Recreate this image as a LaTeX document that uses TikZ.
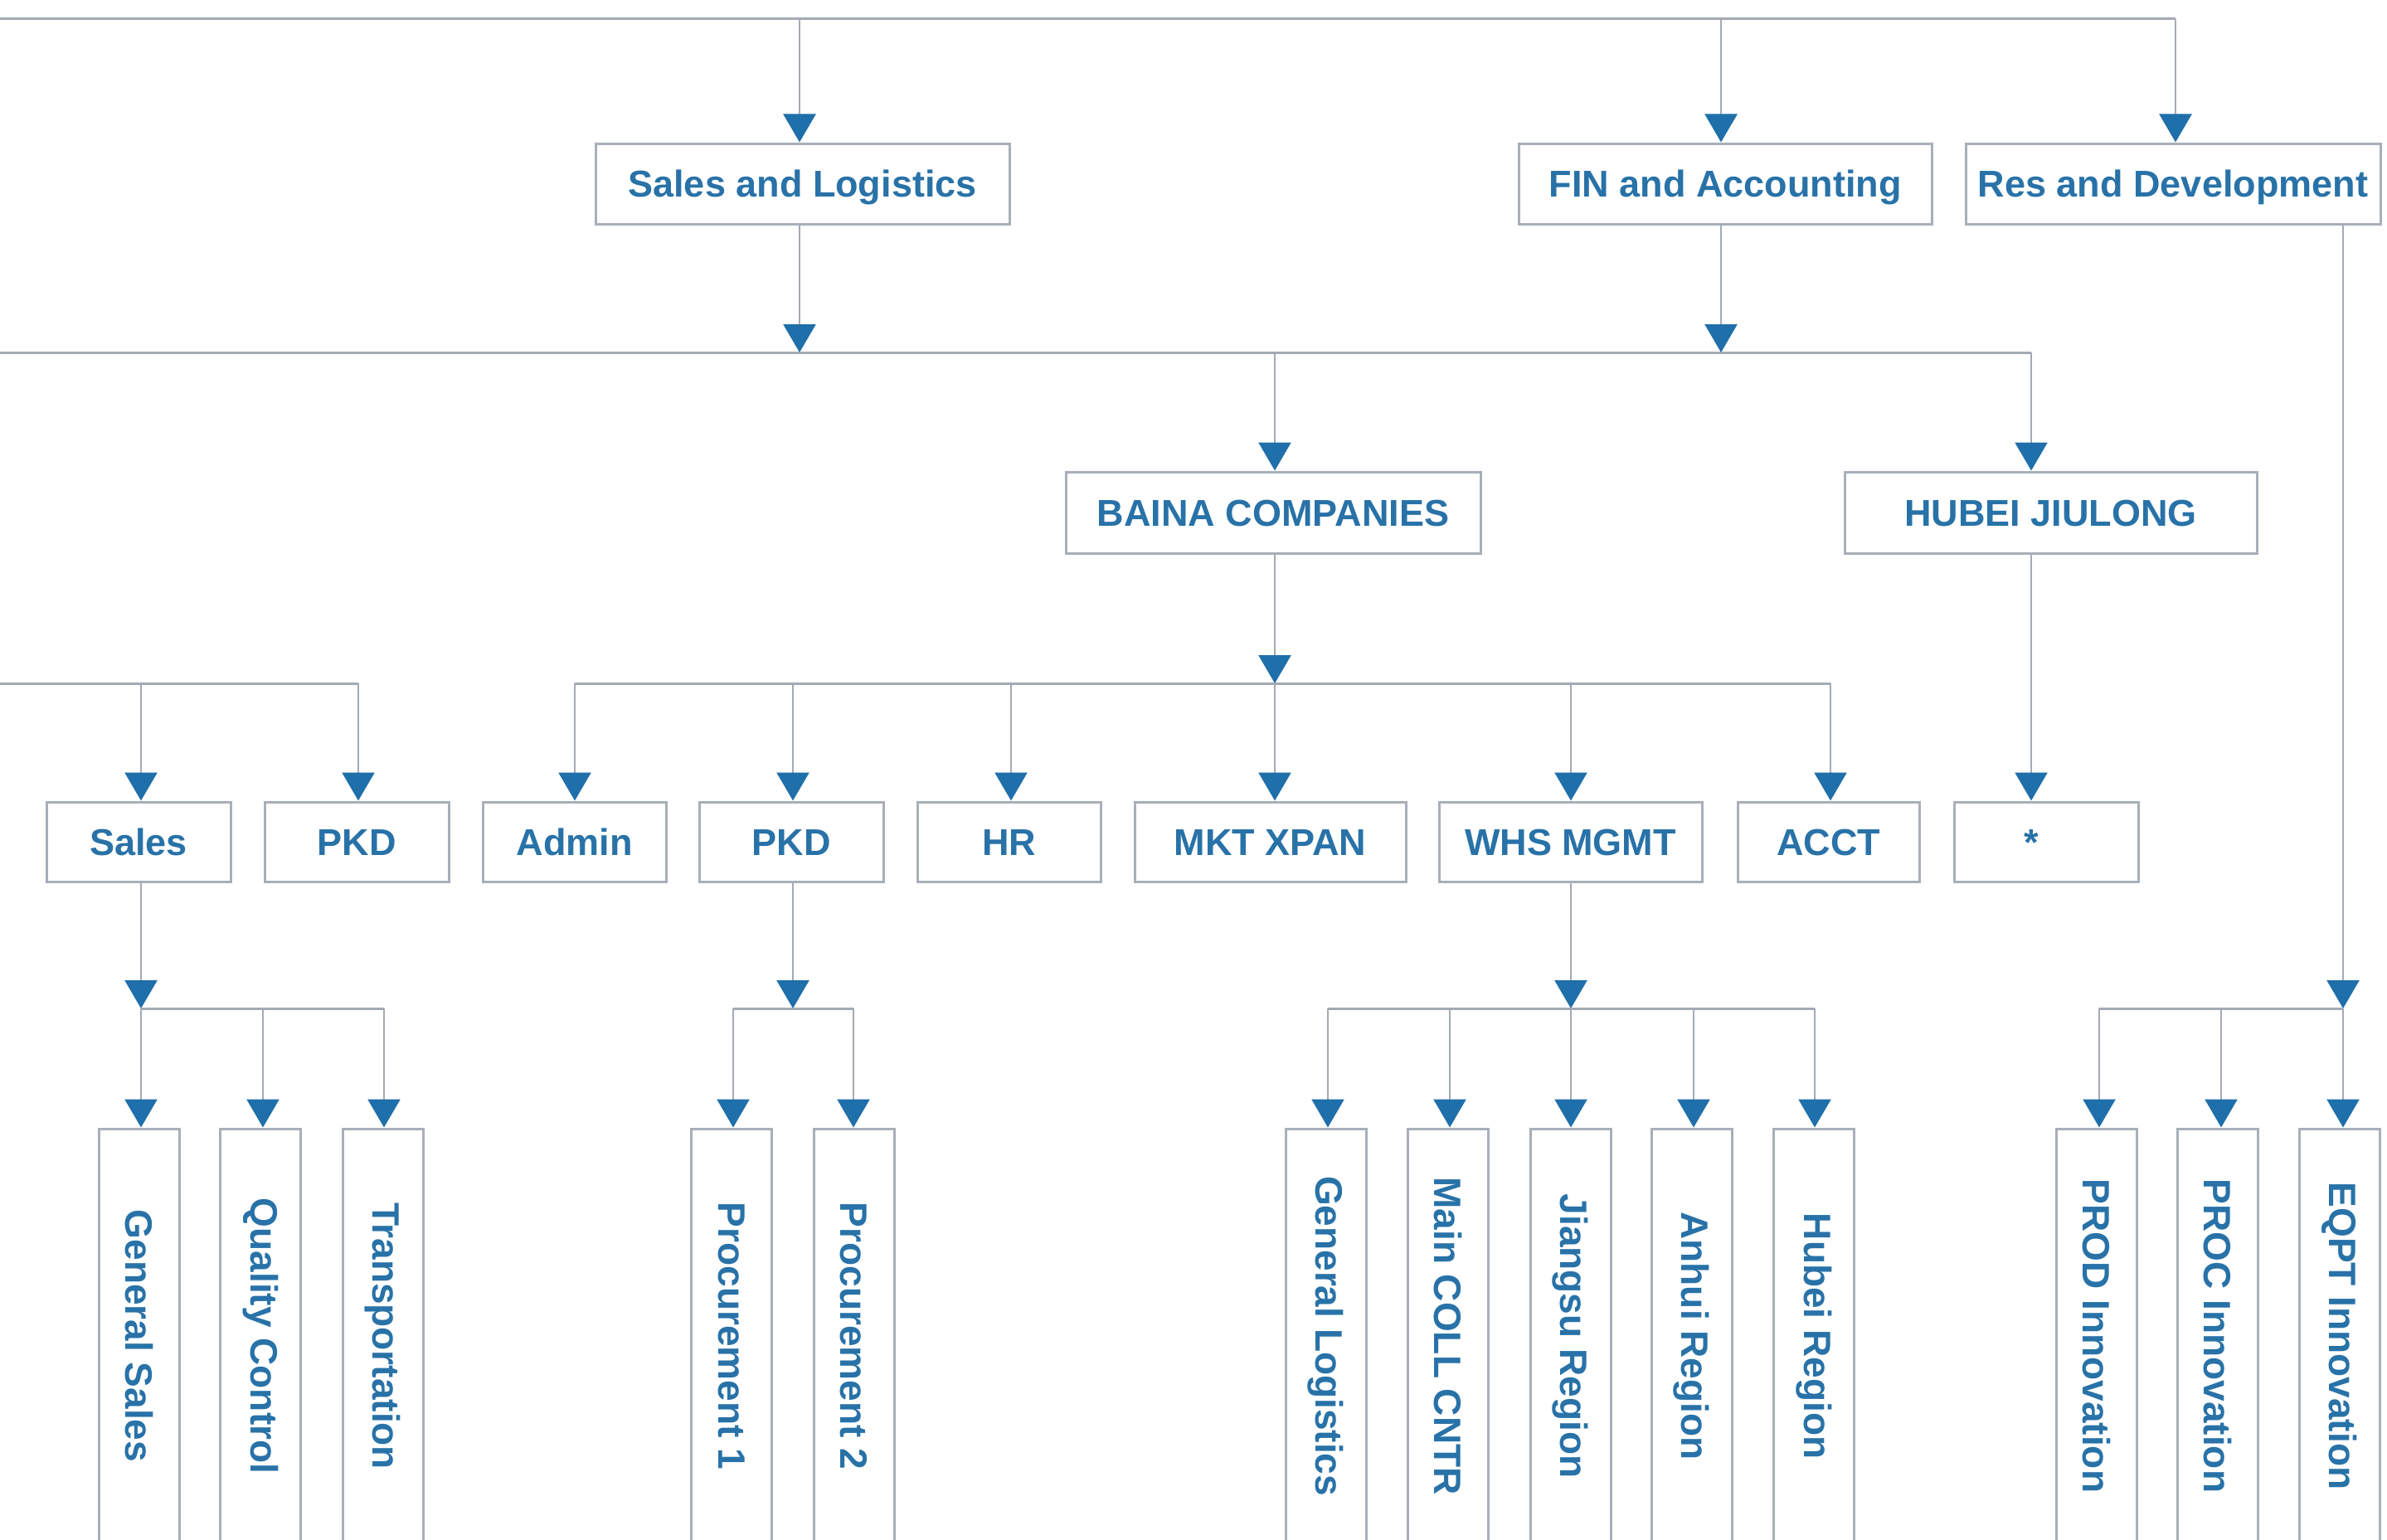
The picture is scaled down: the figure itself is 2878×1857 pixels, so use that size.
\documentclass[tikz,border=0pt]{standalone}
\usepackage{fontspec}
\setmainfont{Liberation Sans}
\usetikzlibrary{arrows.meta}
\definecolor{txtblue}{RGB}{40,114,168}
\definecolor{arrblue}{RGB}{31,111,170}
\definecolor{lgrey}{RGB}{163,170,180}
\definecolor{bgrey}{RGB}{168,175,185}
\tikzset{
  box/.style={draw=bgrey, line width=3pt, fill=white, text=txtblue, inner sep=0pt,
              font=\bfseries\fontsize{45}{54}\selectfont},
  hbox/.style={box, minimum height=97pt, text height=32pt, text depth=0pt},
  sbox/.style={box, minimum height=96pt, text height=32pt, text depth=0pt},
  vbox/.style={box, minimum width=97pt, minimum height=500pt, font=\bfseries\fontsize{46}{55}\selectfont},
  conn/.style={draw=lgrey, line width=2.5pt},
  hline/.style={draw=lgrey, line width=3pt},
  arr/.style={conn, -{Triangle[width=39pt,length=34pt,color=arrblue]}},
}
\begin{document}
\begin{tikzpicture}[x=1pt,y=-1pt]
\useasboundingbox (0,0) rectangle (2878,1857);
\fill[white] (0,0) rectangle (2878,1857);
\clip (0,0) rectangle (2878,1857);

% level 1
\node[hbox, minimum width=499pt] (SL)  at (967.5,221.5) {Sales and Logistics};
\node[hbox, minimum width=498pt] (FIN) at (2080,221.5) {FIN and Accounting};
\node[hbox, minimum width=500pt] (RD)  at (2620,221.5) {Res and Development};

% level 2
\node[hbox, minimum width=500pt, minimum height=98pt] (BAINA) at (1535,618) {BAINA COMPANIES};
\node[hbox, minimum width=497pt, minimum height=98pt] (HUBEI) at (2472.5,618) {HUBEI JIULONG};

% level 3
\node[sbox, minimum width=222pt] (Sales) at (167,1015) {Sales};
\node[sbox, minimum width=222pt] (PKDa)  at (430,1015) {PKD};
\node[sbox, minimum width=221pt] (Admin) at (692.5,1015) {Admin};
\node[sbox, minimum width=222pt] (PKDb)  at (954,1015) {PKD};
\node[sbox, minimum width=221pt] (HR)    at (1216.5,1015) {HR};
\node[sbox, minimum width=327pt] (MKT)   at (1531.5,1015) {MKT XPAN};
\node[sbox, minimum width=317pt] (WHS)   at (1893.5,1015) {WHS MGMT};
\node[sbox, minimum width=219pt] (ACCT)  at (2204.5,1015) {ACCT};
\node[sbox, minimum width=222pt] (STAR)  at (2467,1015) {*\kern36pt};

% level 4
\node[vbox] (GS)   at (167.5,1611) {\rotatebox{-90}{General Sales}};
\node[vbox] (QC)   at (314,1611)   {\rotatebox{-90}{Quality Control}};
\node[vbox] (TR)   at (461.5,1611) {\rotatebox{-90}{Transportation}};
\node[vbox] (P1)   at (882,1611)   {\rotatebox{-90}{Procurement 1}};
\node[vbox] (P2)   at (1029.5,1611){\rotatebox{-90}{Procurement 2}};
\node[vbox] (GL)   at (1598.5,1611){\rotatebox{-90}{General Logistics}};
\node[vbox] (MC)   at (1745.5,1611){\rotatebox{-90}{Main COLL CNTR}};
\node[vbox] (JR)   at (1893.5,1611){\rotatebox{-90}{Jiangsu Region}};
\node[vbox] (AR)   at (2039.5,1611){\rotatebox{-90}{Anhui Region}};
\node[vbox] (HB)   at (2187,1611)  {\rotatebox{-90}{Hubei Region}};
\node[vbox] (PROD) at (2528,1611)  {\rotatebox{-90}{PROD Innovation}};
\node[vbox] (PROC) at (2674,1611)  {\rotatebox{-90}{PROC Innovation}};
\node[vbox] (EQPT) at (2821,1611)  {\rotatebox{-90}{EQPT Innovation}};

% top line
\coordinate (t0)   at (0,23);
\coordinate (tSL)  at (964,23);
\coordinate (tFIN) at (2075,23);
\coordinate (tRD)  at (2623,23);
\draw[hline] (t0) -- (tRD);
\draw[arr] (tSL) -- (tSL |- SL.north);
\draw[arr] (tFIN) -- (tFIN |- FIN.north);
\draw[arr] (tRD) -- (tRD |- RD.north);

% second line
\coordinate (m0)   at (0,425);
\coordinate (mSL)  at (964,425);
\coordinate (mFIN) at (2075,425);
\coordinate (mB)   at (1537,425);
\coordinate (mH)   at (2449,425);
\draw[hline] (m0) -- (mH);
\draw[arr] (SL.south -| mSL) -- (mSL);
\draw[arr] (FIN.south -| mFIN) -- (mFIN);
\draw[arr] (mB) -- (mB |- BAINA.north);
\draw[arr] (mH) -- (mH |- HUBEI.north);

% third line
\coordinate (l0)      at (0,824);
\coordinate (lSales)  at (170,824);
\coordinate (lPKDa)   at (432,824);
\coordinate (lAdmin)  at (693,824);
\coordinate (lPKDb)   at (956,824);
\coordinate (lHR)     at (1219,824);
\coordinate (lMKT)    at (1537,824);
\coordinate (lWHS)    at (1894,824);
\coordinate (lACCT)   at (2207,824);
\draw[hline] (l0) -- (lPKDa);
\draw[hline] (lAdmin) -- (lACCT);
\draw[arr] (BAINA.south -| lMKT) -- (lMKT);
\foreach \c/\n in {lSales/Sales, lPKDa/PKDa, lAdmin/Admin, lPKDb/PKDb, lHR/HR, lMKT/MKT, lWHS/WHS, lACCT/ACCT}
  \draw[arr] (\c) -- (\c |- \n.north);
\draw[arr] (HUBEI.south -| mH) -- (mH |- STAR.north);

% fourth line: Sales group
\coordinate (gS1) at (170,1216);
\coordinate (gS2) at (317,1216);
\coordinate (gS3) at (463,1216);
\draw[arr] (Sales.south -| gS1) -- (gS1);
\draw[hline] (gS1) -- (gS3);
\draw[arr] (gS1) -- (gS1 |- GS.north);
\draw[arr] (gS2) -- (gS2 |- QC.north);
\draw[arr] (gS3) -- (gS3 |- TR.north);

% PKD group
\coordinate (gP0) at (956,1216);
\coordinate (gP1) at (884,1216);
\coordinate (gP2) at (1029,1216);
\draw[arr] (PKDb.south -| gP0) -- (gP0);
\draw[hline] (gP1) -- (gP2);
\draw[arr] (gP1) -- (gP1 |- P1.north);
\draw[arr] (gP2) -- (gP2 |- P2.north);

% WHS group
\coordinate (gW1) at (1601,1216);
\coordinate (gW2) at (1748,1216);
\coordinate (gW3) at (1894,1216);
\coordinate (gW4) at (2042,1216);
\coordinate (gW5) at (2188,1216);
\draw[arr] (WHS.south -| gW3) -- (gW3);
\draw[hline] (gW1) -- (gW5);
\draw[arr] (gW1) -- (gW1 |- GL.north);
\draw[arr] (gW2) -- (gW2 |- MC.north);
\draw[arr] (gW3) -- (gW3 |- JR.north);
\draw[arr] (gW4) -- (gW4 |- AR.north);
\draw[arr] (gW5) -- (gW5 |- HB.north);

% R&D group
\coordinate (gR1) at (2531,1216);
\coordinate (gR2) at (2678,1216);
\coordinate (gR3) at (2825,1216);
\draw[arr] (RD.south -| gR3) -- (gR3);
\draw[hline] (gR1) -- (gR3);
\draw[arr] (gR1) -- (gR1 |- PROD.north);
\draw[arr] (gR2) -- (gR2 |- PROC.north);
\draw[arr] (gR3) -- (gR3 |- EQPT.north);
\end{tikzpicture}
\end{document}
